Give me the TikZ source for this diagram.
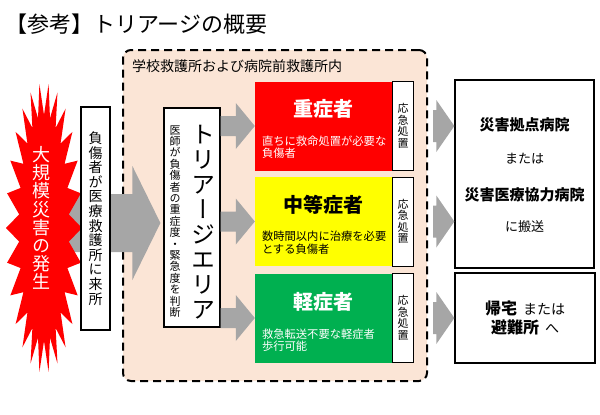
\documentclass[tikz,border=0pt]{standalone}
\usepackage{fontspec}
\setmainfont{Noto Sans CJK JP}
\newfontfamily\vjp[RawFeature=+vert]{Noto Sans CJK JP}
\usepackage{tikz}
\usetikzlibrary{calc, positioning}
\definecolor{zonefill}{RGB}{251, 229, 214}
\definecolor{arrowgray}{RGB}{166, 166, 166}
\definecolor{severe}{RGB}{255, 0, 0}
\definecolor{moderate}{RGB}{255, 255, 0}
\definecolor{minor}{RGB}{0, 176, 80}

\begin{document}
\begin{tikzpicture}[x=1pt, y=-1pt,
    box/.style={rectangle, draw=black, line width=1.2pt, fill=white, inner sep=0pt},
    vtext/.style={align=center, inner sep=0pt},
    casebox/.style={rectangle, inner sep=0pt, minimum width=137pt, minimum height=89pt},
    aidbox/.style={box, vtext, line width=0.8pt, minimum width=21pt, minimum height=89pt,
                   font=\vjp\fontsize{11}{11.5}\selectfont},
    big/.style={inner sep=0pt, font=\bfseries\fontsize{20}{24}\selectfont},
    small/.style={inner sep=0pt, anchor=west, align=left, font=\fontsize{11.3}{12.3}\selectfont}]

\useasboundingbox (0,0) rectangle (600,415);

% Title
\node[anchor=west, inner sep=0pt, font=\fontsize{22}{26}\selectfont] (title) at (5,24)
     {【参考】トリアージの概要};

% First-aid station area
\node[rectangle, draw=black, line width=2pt, dash pattern=on 8pt off 5pt,
      rounded corners=8pt, fill=zonefill,
      minimum width=304pt, minimum height=331pt] (zone) at (275,215.5) {};
\node[anchor=west, inner sep=0pt, font=\fontsize{14}{16}\selectfont] (zonelabel) at (132,66)
     {学校救護所および病院前救護所内};

% Triage area
\node[box, minimum width=56pt, minimum height=219pt] (triage) at (192,217.5) {};
\node[vtext, font=\vjp\fontsize{24}{25}\selectfont] (triagename) at (203,222)
     {ト\\リ\\ア\\ー\\ジ\\エ\\リ\\ア};
\node[vtext, font=\vjp\fontsize{11}{11.4}\selectfont] (triagenote) at (175,221.5)
     {医\\師\\が\\負\\傷\\者\\の\\重\\症\\度\\・\\緊\\急\\度\\を\\判\\断};

% Big arrow from the disaster
\coordinate (flow) at (55,223);
\coordinate (tip0) at ($(triage.west |- flow)+(-3,0)$);
\fill[arrowgray] ($(flow)+(0,-29)$) -- ($(tip0)+(-28,-29)$) -- ($(tip0)+(-28,-57)$) -- (tip0)
     -- ($(tip0)+(-28,57)$) -- ($(tip0)+(-28,29)$) -- ($(flow)+(0,29)$) -- cycle;

% Disaster burst
\fill[severe] (82,228) \foreach \i in {1,...,51} {
     -- ({44+(31.5+6.5*cos(180*\i))*cos(\i*90/13)}, {228+(129+16*cos(180*\i))*sin(\i*90/13)})
     } -- cycle;
\node[vtext, text=white, font=\vjp\fontsize{18}{18.2}\selectfont] (burst) at (41,218)
     {大\\規\\模\\災\\害\\の\\発\\生};

\node[box, vtext, minimum width=29pt, minimum height=223pt,
      font=\vjp\fontsize{14}{14.6}\selectfont] (arrival) at (95.5,218.5)
     {負\\傷\\者\\が\\医\\療\\救\\護\\所\\に\\来\\所};

% Triage levels
\node[casebox, fill=severe] (red) at (323.5,126) {};
\node[aidbox, right=0pt of red] (redaid) {応\\急\\処\\置};
\node[big, text=white] (redtitle) at ($(red.north)+(0,28)$) {重症者};
\node[small, text=white] (rednote) at ($(red.north west)+(7,66)$)
     {直ちに救命処置が必要な\\負傷者};

\node[casebox, fill=moderate] (yellow) at (323.5,221.5) {};
\node[aidbox, right=0pt of yellow] (yellowaid) {応\\急\\処\\置};
\node[big] (yellowtitle) at ($(yellow.north)+(0,28)$) {中等症者};
\node[small] (yellownote) at ($(yellow.north west)+(7,66)$)
     {数時間以内に治療を必要\\とする負傷者};

\node[casebox, fill=minor] (green) at (323.5,318) {};
\node[aidbox, right=0pt of green] (greenaid) {応\\急\\処\\置};
\node[big, text=white] (greentitle) at ($(green.north)+(0,29)$) {軽症者};
\node[small, text=white] (greennote) at ($(green.north west)+(7,67)$)
     {救急転送不要な軽症者\\歩行可能};

\foreach \b in {red,yellow,green} {
    \coordinate (tip) at (\b.west);
    \fill[arrowgray] ($(triage.east |- tip)+(0,-10)$) -- ($(tip)+(-19,-10)$)
         -- ($(tip)+(-19,-23)$) -- (tip) -- ($(tip)+(-19,23)$)
         -- ($(tip)+(-19,10)$) -- ($(triage.east |- tip)+(0,10)$) -- cycle;
}

% Destinations
\node[box, line width=1.3pt, minimum width=139pt, minimum height=188pt] (hosp) at (524.5,174) {};
\node[font=\bfseries\fontsize{15}{18}\selectfont] (hosp1) at ($(hosp.north)+(0,45)$) {災害拠点病院};
\node[font=\fontsize{13}{16}\selectfont] (hosp2) at ($(hosp.north)+(0,79)$) {または};
\node[font=\bfseries\fontsize{15}{18}\selectfont] (hosp3) at ($(hosp.north)+(0,115)$) {災害医療協力病院};
\node[font=\fontsize{13}{16}\selectfont] (hosp4) at ($(hosp.north)+(0,147)$) {に搬送};

\node[box, line width=1.3pt, align=center, minimum width=140pt, minimum height=90pt,
      font=\fontsize{14}{19}\selectfont] (home) at (525,318)
     {{\bfseries\fontsize{16}{19}\selectfont 帰宅}\hspace{6pt}または\\
      {\bfseries\fontsize{16}{19}\selectfont 避難所}\hspace{6pt}へ};

\foreach \b/\t in {red/hosp, yellow/hosp, green/home} {
    \coordinate (tip) at (\t.west |- \b);
    \coordinate (tail) at ($(zone.east |- \b)+(5,0)$);
    \fill[arrowgray] ($(tail)+(0,-16)$) -- ($(tip)+(-18,-16)$) -- ($(tip)+(-18,-26)$) -- (tip)
         -- ($(tip)+(-18,26)$) -- ($(tip)+(-18,16)$) -- ($(tail)+(0,16)$) -- cycle;
}

\end{tikzpicture}
\end{document}
